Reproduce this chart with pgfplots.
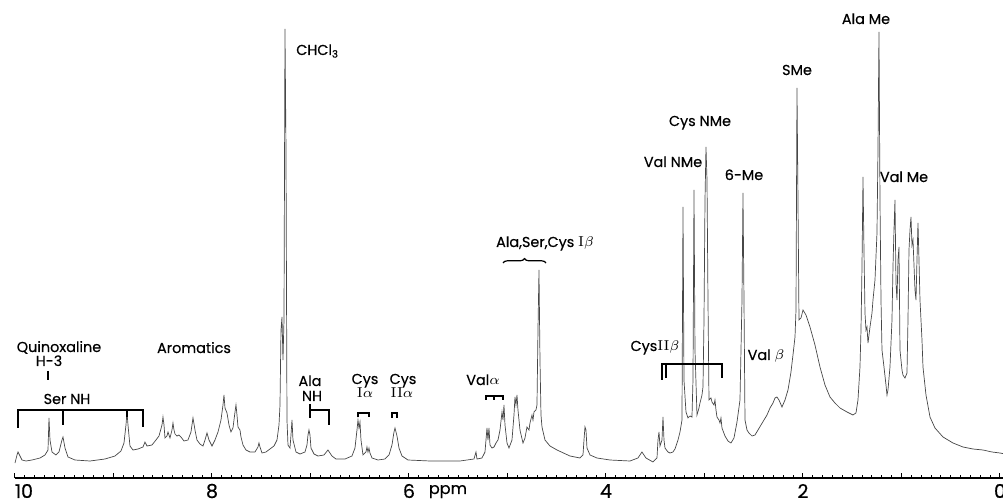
\documentclass[border=0pt]{standalone}
\usepackage{fontspec}
\usepackage{pgfplots}
\pgfplotsset{compat=1.18}
\usetikzlibrary{decorations.pathreplacing}
\newfontfamily\lab{Poppins}[FakeBold=0.4]
\newcommand\lbl{\lab\fontsize{7.2}{8.5}\selectfont}
\begin{document}
\begin{tikzpicture}
\begin{axis}[
  at={(0,0)}, anchor=south west,
  x=49.25pt, y=0.5pt,
  x dir=reverse,
  xmin=-0.06, xmax=10, ymin=0, ymax=478,
  axis x line*=bottom, axis y line=none,
  axis line style={black, line width=0.6pt},
  xtick={0,1,...,10}, xticklabels={0,,2,,4,,6,,8,,},
  minor x tick num=9,
  tick align=inside,
  tick style={black, line width=0.5pt},
  major tick length=2.6pt, minor tick length=1.3pt,
  /pgf/number format/assume math mode=true,
  xticklabel style={font=\lab\fontsize{9.5}{11}\selectfont, anchor=center, yshift=-6.5pt},
  clip=false,
]
\addplot[black!72, line width=0.35pt, x filter/.expression={(1000-x)/98.5}, y filter/.expression={478-y}] coordinates {
(15,463) (17,455) (18,452) (20,456) (22,460) (26,461) (32,460) (40,458) (45,455) (48,450) (49,418) (50,440) (52,452) (56,455) (59,452) (62,440) (63,437) (65,448) (68,457) (75,460) (90,461) (105,459) (115,456) (121,451) (124,443) (126,425) (127,412) (128,425) (130,446) (133,450) (138,449) (143,447) (145,442) (147,446) (152,445) (156,440) (159,436) (162,425) (163,417) (164,425) (165,438) (167,436) (168,432) (170,438) (172,430) (173,423) (174,430) (175,434) (177,436) (179,435) (181,437) (184,441) (188,440) (191,432) (193,418) (195,430) (197,440) (200,444) (203,446) (205,440) (207,433) (209,440) (212,446) (215,440) (218,432) (221,420) (223,405) (224,395) (225,408) (227,413) (229,425) (231,432) (233,428) (235,412) (236,405) (237,415) (238,427) (240,430) (241,437) (243,445) (246,450) (250,452) (255,452) (258,447) (259,443) (260,447) (262,453) (266,452) (270,449) (274,446) (277,440) (279,425) (280,405) (281,330) (282,317) (283,360) (284,320) (285,29) (286,150) (287,420) (288,445) (290,448) (291,435) (292,420) (293,440) (296,452) (300,454) (305,452) (307,445) (308,435) (309,430) (310,435) (311,448) (314,454) (318,456) (324,455) (328,450) (332,456) (336,459) (345,459) (352,456) (355,448) (357,430) (358,420) (359,428) (360,422) (361,440) (363,455) (366,452) (367,447) (368,452) (369,448) (370,453) (372,458) (378,460) (385,459) (389,455) (392,445) (394,432) (395,428) (396,432) (397,436) (399,448) (402,456) (408,460) (430,461) (460,461) (474,459) (476,452) (477,459) (482,458) (485,452) (486,440) (487,428) (488,440) (489,428) (490,445) (492,448) (494,447) (496,443) (498,440) (500,430) (502,412) (503,420) (504,405) (505,425) (507,443) (509,448) (512,440) (514,415) (515,397) (516,405) (517,395) (518,410) (520,430) (523,443) (525,438) (527,427) (529,430) (530,423) (532,415) (533,420) (534,412) (536,410) (537,405) (538,330) (539,270) (540,360) (541,415) (542,427) (545,440) (550,446) (557,450) (570,456) (580,458) (583,455) (584,440) (585,427) (586,430) (587,448) (590,455) (597,458) (610,460) (630,461) (638,458) (642,452) (646,458) (653,462) (657,458) (658,440) (659,432) (660,446) (662,440) (663,417) (664,440) (665,448) (668,452) (670,453) (673,452) (675,449) (678,440) (680,432) (682,420) (683,207) (684,380) (686,412) (688,418) (690,416) (692,417) (693,380) (694,190) (695,350) (697,415) (699,408) (700,403) (702,395) (703,387) (704,320) (705,200) (706,147) (707,180) (708,300) (709,400) (711,398) (712,402) (714,405) (715,400) (716,410) (717,417) (719,420) (720,423) (721,418) (722,428) (725,436) (728,441) (731,443) (734,438) (737,422) (740,400) (742,300) (743,193) (744,300) (745,420) (747,430) (749,433) (752,436) (755,435) (758,430) (761,425) (764,420) (767,415) (770,408) (773,403) (775,398) (777,397) (779,400) (782,407) (785,400) (788,390) (791,372) (793,355) (795,337) (796,310) (797,88) (798,200) (799,320) (801,318) (803,310) (806,315) (810,327) (815,345) (820,367) (825,385) (830,397) (835,403) (840,408) (847,412) (853,415) (856,413) (858,400) (860,367) (861,330) (862,267) (863,177) (864,250) (865,313) (866,330) (867,327) (868,343) (869,335) (870,327) (872,313) (873,300) (875,280) (877,233) (878,150) (879,32) (880,200) (881,300) (882,350) (884,367) (886,385) (887,395) (888,390) (890,367) (892,320) (893,267) (894,230) (895,200) (896,283) (897,300) (898,260) (899,247) (900,350) (902,370) (903,375) (905,378) (907,373) (908,320) (909,250) (910,230) (911,217) (912,245) (913,240) (915,290) (916,300) (917,260) (918,223) (919,260) (920,300) (922,340) (923,367) (926,395) (930,417) (935,428) (943,437) (953,443) (963,447) (973,449) (983,450) (992,452) (1000,453) (1005,454)
};
\end{axis}
\begin{scope}[shift={(-7.5pt,239pt)}, x=0.5pt, y=-0.5pt, font=\lbl, line width=0.6pt]
  % tick label 10 and ppm
  \node[font=\lab\fontsize{9.5}{11}\selectfont, anchor=base] at (24,498) {10};
  \node[font=\lab\fontsize{8}{10}\selectfont, anchor=base] at (448,494) {ppm};
  % left annotations
  \node[anchor=base] at (59,352) {Quinoxaline};
  \node[anchor=base] at (49,366) {H-3};
  \draw (48,371) -- (48,380);
  \node[anchor=base] at (67,404) {Ser NH};
  \draw (18,428) -- (18,410) -- (143,410) -- (143,427);
  \draw (63,410) -- (63,425);
  \draw (127,410) -- (127,417);
  \node[anchor=base] at (194,353) {Aromatics};
  \node[anchor=west] at (289,51) {CHCl\textsubscript{3}};
  \node[anchor=base] at (310,386) {Ala};
  \node[anchor=base] at (312,401) {NH};
  \draw (310,404) -- (310,418);
  \draw (310,410) -- (329,410) -- (329,425);
  \node[anchor=base] at (365,384) {Cys};
  \node[anchor=base] at (365,398) {{\rmfamily I}$\alpha$};
  \node[anchor=base] at (403,384) {Cys};
  \node[anchor=base] at (402,398) {{\rmfamily II}$\alpha$};
  \draw (358,417) -- (358,413) -- (369,413) -- (369,417);
  \draw (392,418) -- (392,413) -- (397,413) -- (397,418);
  \node[anchor=base] at (483,385) {Val$\alpha$};
  \draw (486,400) -- (486,396) -- (503,396) -- (503,400);
  \draw (494,396) -- (494,400);
  \node[anchor=base] at (545,247) {Ala,Ser,Cys {\rmfamily I}$\beta$};
  \draw[decorate, decoration={brace, amplitude=2.2pt}] (503,263) -- (546,263);
  \node[anchor=base] at (655,351) {Cys{\rmfamily II}$\beta$};
  \draw (662,380) -- (662,364) -- (722,364) -- (722,378);
  \draw (666,364) -- (666,378);
  \node[anchor=base] at (673,167) {Val NMe};
  \node[anchor=base] at (700,126) {Cys NMe};
  \node[anchor=base] at (744,180) {6-Me};
  \node[anchor=base] at (797,75) {SMe};
  \node[anchor=base] at (766,360) {Val $\beta$};
  \node[anchor=base] at (866,24) {Ala Me};
  \node[anchor=base] at (904,182) {Val Me};
\end{scope}
\pgfresetboundingbox
\path[use as bounding box] (-7.5pt,-13pt) rectangle (494pt,239pt);
\end{tikzpicture}
\end{document}
